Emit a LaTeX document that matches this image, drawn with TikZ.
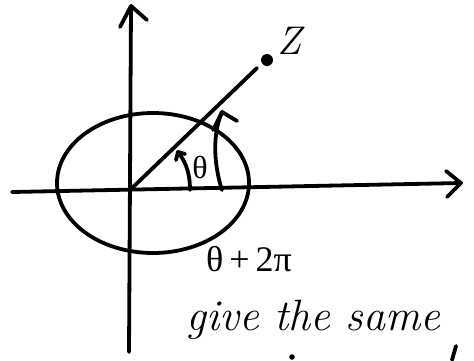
\documentclass[tikz,border=0pt]{standalone}
\usepackage{fontspec}
\newfontfamily\gk{Liberation Serif}
\usetikzlibrary{arrows.meta}
\begin{document}
\begin{tikzpicture}[x=1pt,y=-1pt,
  pen/.style={line width=3.8pt,line cap=round,line join=round,black},
  hand/.style={font=\itshape\fontsize{44}{44}\selectfont,inner sep=0pt},
  sym/.style={font=\gk\fontsize{36}{36}\selectfont,inner sep=0pt}]
\useasboundingbox (0,0) rectangle (474,360);
% axes
\coordinate (ybot) at (129,352);
\coordinate (ytop) at (131,6);
\coordinate (xl) at (12,192);
\coordinate (xr) at (461,183);
\draw[pen] (ybot) -- (ytop);
\draw[pen] (120,27) -- (ytop) -- (147,20);
\draw[pen] (xl) -- (xr);
\draw[pen] (446,171) -- (xr) -- (447,197);
% circle
\draw[pen] (153,183) ellipse [x radius=96, y radius=70];
% ray to z
\coordinate (o) at (131,189);
\coordinate (zend) at (257,68);
\draw[pen] (o) -- (zend);
\fill (267,60) circle (6);
\node[font=\itshape\fontsize{40}{40}\selectfont,inner sep=0pt] (z) at (289,41) {Z};
% small theta arc
\coordinate (t0) at (190,190);
\coordinate (t1) at (178,152);
\draw[pen] (t0) .. controls (190,170) and (184,160) .. (t1);
\draw[pen] (185,154) -- (178,152) -- (176,160);
\node[sym,font=\gk\fontsize{32}{32}\selectfont] (th) at (200,167) {θ};
% big arc
\coordinate (b0) at (222,190);
\coordinate (b1) at (222,112);
\draw[pen] (b0) .. controls (214,165) and (212,135) .. (b1);
\draw[pen] (213,130) -- (b1) -- (237,121);
% labels
\node[sym,anchor=west] (lab) at (206,259) {θ\,+\,2π};
\node[hand,anchor=west] (give) at (186,320) {give the same};
% fragments of the next line
\fill (292,357) circle (2.8);
\draw[pen] (456,346) -- (452,360);
\end{tikzpicture}
\end{document}
